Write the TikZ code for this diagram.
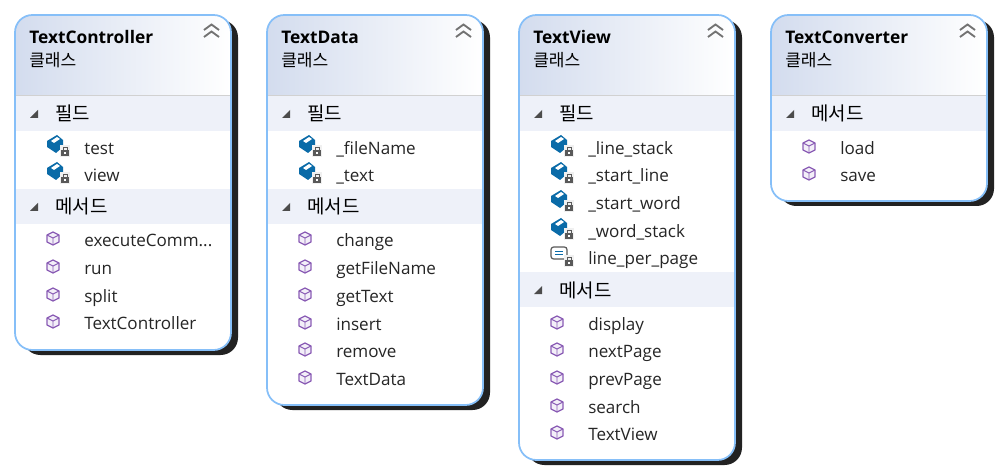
\documentclass[tikz,border=0pt]{standalone}
\usepackage{fontspec}
\setmainfont{Open Sans}
\newfontfamily\krfont{Noto Sans CJK KR}
\usepackage{xcolor}
\usepackage{tikz}
\definecolor{edgeblue}{HTML}{86BFF8}
\definecolor{headleft}{HTML}{D3DCEE}
\definecolor{sectbg}{HTML}{EEF1F9}
\definecolor{shadowdark}{HTML}{222222}
\definecolor{fieldblue}{HTML}{0A6BA8}
\definecolor{methodpurple}{HTML}{8A5CB5}
\tikzset{
  titlelbl/.style={anchor=base west, inner sep=0pt, font=\fontsize{13}{14}\selectfont\bfseries},
  sublbl/.style={anchor=base west, inner sep=0pt, font=\fontsize{12.8}{14}\krfont},
  sectlbl/.style={anchor=base west, inner sep=0pt, font=\fontsize{14.2}{14}\krfont},
  rowlbl/.style={anchor=base west, inner sep=0pt, text=black!85, font=\fontsize{12.8}{14}\selectfont},
}
% panel: x, bottom, title, name
\newcommand{\panelbox}[4]{
  \fill[shadowdark, rounded corners=13] (#1+8,20) rectangle (#1+223,#2+5);
  \fill[white, rounded corners=13] (#1,15) rectangle (#1+216,#2);
  \begin{scope}
    \clip[rounded corners=13] (#1,15) rectangle (#1+216,#2);
    \shade[left color=headleft, right color=white, shading angle=90] (#1,15) rectangle (#1+216,95);
    \draw[black!18] (#1,95.5) -- (#1+216,95.5);
  \end{scope}
  \draw[edgeblue, line width=1.3pt, rounded corners=13] (#1,15) rectangle (#1+216,#2);
  \draw[black!55, line width=1.4pt] (#1+189,30) -- (#1+196.5,24.5) -- (#1+204,30);
  \draw[black!55, line width=1.4pt] (#1+189,37) -- (#1+196.5,31.5) -- (#1+204,37);
  \node[titlelbl](#4title) at (#1+14,43.5){#3};
  \node[sublbl](#4sub) at (#1+14,66.5){클래스};
}
% section header: x, y, text, name
\newcommand{\sectbar}[4]{
  \fill[sectbg] (#1+1,#2-17) rectangle (#1+215,#2+18);
  \fill[black!70] (#1+15,#2+5) -- (#1+23,#2+5) -- (#1+23,#2-3) -- cycle;
  \node[sectlbl](#4) at (#1+40,#2+8){#3};
}
\newcommand{\lockicon}[2]{
  \fill[black!6] (#1-5,#2-6) rectangle (#1+5,#2+6);
  \fill[black!65] (#1-4,#2-1) rectangle (#1+4,#2+5);
  \draw[black!65, line width=0.7pt] (#1-2,#2-1) -- (#1-2,#2-4) -- (#1+2,#2-4) -- (#1+2,#2-1);
  \fill[white] (#1-1,#2+1) rectangle (#1+1,#2+3);
}
% field row: x, y, text, name
\newcommand{\fieldrow}[4]{
  \fill[fieldblue] (#1+32,#2-7) -- (#1+42,#2-13) -- (#1+48,#2-8) -- (#1+48,#2-1) -- (#1+41,#2+5) -- (#1+32,#2-1) -- cycle;
  \fill[white] (#1+36,#2-7) -- (#1+42,#2-11) -- (#1+45,#2-9) -- (#1+39,#2-5) -- cycle;
  \lockicon{#1+50}{#2+3}
  \node[rowlbl](#4) at (#1+69,#2+6.5){#3};
}
% property row
\newcommand{\proprow}[4]{
  \draw[black!65, line width=0.9pt, fill=white, rounded corners=2] (#1+32,#2-11) rectangle (#1+48,#2+1);
  \draw[fieldblue, line width=0.7pt] (#1+36,#2-7) -- (#1+44,#2-7) (#1+36,#2-4) -- (#1+44,#2-4);
  \lockicon{#1+50}{#2+3}
  \node[rowlbl](#4) at (#1+69,#2+6.5){#3};
}
% method row
\newcommand{\methodrow}[4]{
  \draw[methodpurple, line width=0.9pt, fill=methodpurple!10, line join=round] (#1+38,#2-8) -- (#1+44,#2-5) -- (#1+44,#2+2) -- (#1+38,#2+5) -- (#1+32,#2+2) -- (#1+32,#2-5) -- cycle;
  \draw[methodpurple, line width=0.7pt] (#1+32,#2-5) -- (#1+38,#2-2) -- (#1+44,#2-5) (#1+38,#2-2) -- (#1+38,#2+5);
  \node[rowlbl](#4) at (#1+69,#2+6.5){#3};
}
\begin{document}
\begin{tikzpicture}[x=0.75pt,y=-0.75pt]
\useasboundingbox (0,0) rectangle (1000,474);
%
\panelbox{15}{350}{TextController}{ctrl}
\sectbar{15}{113}{필드}{ctrlfields}
\fieldrow{15}{148}{test}{ctrltest}
\fieldrow{15}{175}{view}{ctrlview}
\sectbar{15}{206}{메서드}{ctrlmethods}
\methodrow{15}{240}{executeComm...}{ctrlexec}
\methodrow{15}{268}{run}{ctrlrun}
\methodrow{15}{296}{split}{ctrlsplit}
\methodrow{15}{323}{TextController}{ctrlctor}
%
\panelbox{267}{405}{TextData}{data}
\sectbar{267}{113}{필드}{datafields}
\fieldrow{267}{148}{\_fileName}{datafile}
\fieldrow{267}{175}{\_text}{datatext}
\sectbar{267}{206}{메서드}{datamethods}
\methodrow{267}{240}{change}{datachange}
\methodrow{267}{268}{getFileName}{datagetfile}
\methodrow{267}{296}{getText}{datagettext}
\methodrow{267}{324}{insert}{datainsert}
\methodrow{267}{351}{remove}{dataremove}
\methodrow{267}{379}{TextData}{datactor}
%
\panelbox{519}{460}{TextView}{view}
\sectbar{519}{113}{필드}{viewfields}
\fieldrow{519}{148}{\_line\_stack}{viewlinestack}
\fieldrow{519}{175}{\_start\_line}{viewstartline}
\fieldrow{519}{203}{\_start\_word}{viewstartword}
\fieldrow{519}{231}{\_word\_stack}{viewwordstack}
\proprow{519}{258}{line\_per\_page}{viewperpage}
\sectbar{519}{289}{메서드}{viewmethods}
\methodrow{519}{324}{display}{viewdisplay}
\methodrow{519}{351}{nextPage}{viewnext}
\methodrow{519}{379}{prevPage}{viewprev}
\methodrow{519}{407}{search}{viewsearch}
\methodrow{519}{434}{TextView}{viewctor}
%
\panelbox{771}{201}{TextConverter}{conv}
\sectbar{771}{113}{메서드}{convmethods}
\methodrow{771}{148}{load}{convload}
\methodrow{771}{175}{save}{convsave}
%
\end{tikzpicture}
\end{document}
